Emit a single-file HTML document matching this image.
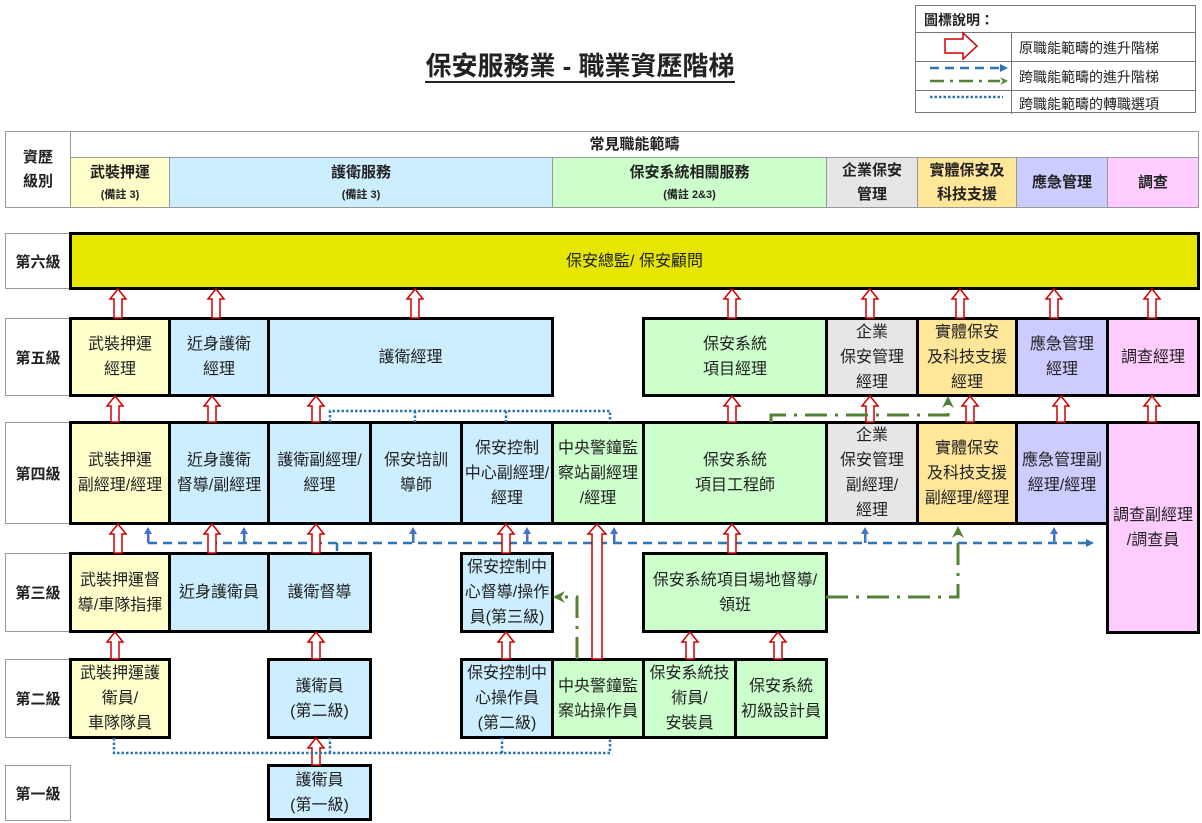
<!DOCTYPE html>
<html><head><meta charset="utf-8"><style>
body{margin:0;width:1202px;height:823px;background:#fff;position:relative;overflow:hidden;font-family:"Liberation Sans","Noto Sans CJK TC",sans-serif;color:#222}
.b{position:absolute;border:3px solid #000;box-sizing:border-box;display:flex;align-items:center;justify-content:center;text-align:center;font-size:16px;line-height:25px;white-space:nowrap}
.h{position:absolute;border:1px solid #999;box-sizing:border-box;display:flex;align-items:center;justify-content:center;text-align:center;font-size:15px;line-height:24px;font-weight:bold;flex-direction:column}
.h small{font-size:11px;line-height:20px}
.l{position:absolute;border:1px solid #999;box-sizing:border-box;display:flex;align-items:center;justify-content:center;font-size:15px;font-weight:bold;background:#fff}
.Y{background:#ffffcc}.B{background:#cceeff}.G{background:#ccffcc}.R{background:#e6e6e6}.O{background:#ffe699}.P{background:#ccccff}.K{background:#ffccff}
svg{position:absolute;left:0;top:0}
</style></head><body>
<div style="position:absolute;left:330px;top:46px;width:500px;text-align:center;font-size:26px;font-weight:bold;"><span style="border-bottom:2px solid #222;">保安服務業 - 職業資歷階梯</span></div>

<!-- legend -->
<div style="position:absolute;left:915px;top:5px;width:281px;height:108px;border:1px solid #777;box-sizing:border-box;font-size:14px;">
<div style="position:absolute;left:8px;top:4px;font-weight:bold;">圖標說明：</div>
<div style="position:absolute;left:0;top:26px;width:100%;border-top:1px solid #777"></div>
<div style="position:absolute;left:0;top:55px;width:100%;border-top:1px solid #777"></div>
<div style="position:absolute;left:0;top:84px;width:100%;border-top:1px solid #777"></div>
<div style="position:absolute;left:95px;top:26px;height:82px;border-left:1px solid #777"></div>
<div style="position:absolute;left:103px;top:32px;">原職能範疇的進升階梯</div>
<div style="position:absolute;left:103px;top:61px;">跨職能範疇的進升階梯</div>
<div style="position:absolute;left:103px;top:88px;">跨職能範疇的轉職選項</div>
</div>

<!-- header -->
<div class="h" style="left:5px;top:131px;width:66px;height:77px;">資歷<br>級別</div>
<div class="h" style="left:70px;top:131px;width:1129px;height:27px;">常見職能範疇</div>
<div class="h Y" style="left:70px;top:157px;width:100px;height:51px;">武裝押運<small>(備註 3)</small></div>
<div class="h B" style="left:169px;top:157px;width:384px;height:51px;">護衛服務<small>(備註 3)</small></div>
<div class="h G" style="left:552px;top:157px;width:275px;height:51px;">保安系統相關服務<small>(備註 2&amp;3)</small></div>
<div class="h R" style="left:826px;top:157px;width:92px;height:51px;">企業保安<br>管理</div>
<div class="h O" style="left:917px;top:157px;width:100px;height:51px;">實體保安及<br>科技支援</div>
<div class="h P" style="left:1016px;top:157px;width:92px;height:51px;">應急管理</div>
<div class="h K" style="left:1107px;top:157px;width:92px;height:51px;">調查</div>

<!-- level labels -->
<div class="l" style="left:5px;top:233px;width:66px;height:56px;">第六級</div>
<div class="l" style="left:5px;top:318px;width:66px;height:78px;">第五級</div>
<div class="l" style="left:5px;top:422px;width:66px;height:102px;">第四級</div>
<div class="l" style="left:5px;top:553px;width:66px;height:79px;">第三級</div>
<div class="l" style="left:5px;top:659px;width:66px;height:79px;">第二級</div>
<div class="l" style="left:5px;top:765px;width:66px;height:56px;">第一級</div>

<!-- level 6 -->
<div class="b" style="left:69px;top:232px;width:1131px;height:58px;background:#e6e600;">保安總監/ 保安顧問</div>
<!-- level 5 -->
<div class="b Y" style="left:69px;top:317px;width:102px;height:80px;">武裝押運<br>經理</div>
<div class="b B" style="left:168px;top:317px;width:102px;height:80px;">近身護衛<br>經理</div>
<div class="b B" style="left:267px;top:317px;width:287px;height:80px;">護衛經理</div>
<div class="b G" style="left:642px;top:317px;width:186px;height:80px;">保安系統<br>項目經理</div>
<div class="b R" style="left:825px;top:317px;width:94px;height:80px;">企業<br>保安管理<br>經理</div>
<div class="b O" style="left:916px;top:317px;width:102px;height:80px;">實體保安<br>及科技支援<br>經理</div>
<div class="b P" style="left:1015px;top:317px;width:94px;height:80px;">應急管理<br>經理</div>
<div class="b K" style="left:1106px;top:317px;width:94px;height:80px;">調查經理</div>
<!-- level 4 -->
<div class="b Y" style="left:69px;top:421px;width:102px;height:104px;">武裝押運<br>副經理/經理</div>
<div class="b B" style="left:168px;top:421px;width:102px;height:104px;">近身護衛<br>督導/副經理</div>
<div class="b B" style="left:267px;top:421px;width:105px;height:104px;">護衛副經理/<br>經理</div>
<div class="b B" style="left:369px;top:421px;width:94px;height:104px;">保安培訓<br>導師</div>
<div class="b B" style="left:460px;top:421px;width:94px;height:104px;">保安控制<br>中心副經理/<br>經理</div>
<div class="b G" style="left:551px;top:421px;width:94px;height:104px;">中央警鐘監<br>察站副經理<br>/經理</div>
<div class="b G" style="left:642px;top:421px;width:186px;height:104px;">保安系統<br>項目工程師</div>
<div class="b R" style="left:825px;top:421px;width:94px;height:104px;">企業<br>保安管理<br>副經理/<br>經理</div>
<div class="b O" style="left:916px;top:421px;width:102px;height:104px;">實體保安<br>及科技支援<br>副經理/經理</div>
<div class="b P" style="left:1015px;top:421px;width:94px;height:104px;">應急管理副<br>經理/經理</div>
<div class="b K" style="left:1106px;top:421px;width:94px;height:213px;">調查副經理<br>/調查員</div>
<!-- level 3 -->
<div class="b Y" style="left:69px;top:552px;width:102px;height:81px;">武裝押運督<br>導/車隊指揮</div>
<div class="b B" style="left:168px;top:552px;width:102px;height:81px;">近身護衛員</div>
<div class="b B" style="left:267px;top:552px;width:105px;height:81px;">護衛督導</div>
<div class="b B" style="left:460px;top:552px;width:94px;height:81px;">保安控制中<br>心督導/操作<br>員(第三級)</div>
<div class="b G" style="left:642px;top:552px;width:186px;height:81px;">保安系統項目場地督導/<br>領班</div>
<!-- level 2 -->
<div class="b Y" style="left:69px;top:658px;width:102px;height:81px;">武裝押運護<br>衛員/<br>車隊隊員</div>
<div class="b B" style="left:267px;top:658px;width:105px;height:81px;">護衛員<br>(第二級)</div>
<div class="b B" style="left:460px;top:658px;width:94px;height:81px;">保安控制中<br>心操作員<br>(第二級)</div>
<div class="b G" style="left:551px;top:658px;width:94px;height:81px;">中央警鐘監<br>案站操作員</div>
<div class="b G" style="left:642px;top:658px;width:95px;height:81px;">保安系統技<br>術員/<br>安裝員</div>
<div class="b G" style="left:734px;top:658px;width:94px;height:81px;">保安系統<br>初級設計員</div>
<!-- level 1 -->
<div class="b B" style="left:267px;top:764px;width:105px;height:57px;">護衛員<br>(第一級)</div>

<svg width="1202" height="823">
<defs>
<marker id="bm" markerWidth="8" markerHeight="8" refX="6" refY="4" orient="auto" markerUnits="userSpaceOnUse"><path d="M0,0L8,4L0,8z" fill="#2e75b6"/></marker>
<marker id="gm" markerWidth="12" markerHeight="12" refX="10" refY="6" orient="auto" markerUnits="userSpaceOnUse"><path d="M0,0L12,6L0,12L4,6z" fill="#548235"/></marker>
</defs>
<g fill="#fff" stroke="#d00000" stroke-width="1.5">
<path d="M114,318V299H110L118,289L126,299H122V318Z"/>
<path d="M212,318V299H208L216,289L224,299H220V318Z"/>
<path d="M411,318V299H407L415,289L423,299H419V318Z"/>
<path d="M728,318V299H724L732,289L740,299H736V318Z"/>
<path d="M866,318V299H862L870,289L878,299H874V318Z"/>
<path d="M956,318V299H952L960,289L968,299H964V318Z"/>
<path d="M1050,318V299H1046L1054,289L1062,299H1058V318Z"/>
<path d="M1148,318V299H1144L1152,289L1160,299H1156V318Z"/>
<path d="M111,422V406H107L115,396L123,406H119V422Z"/>
<path d="M208,422V406H204L212,396L220,406H216V422Z"/>
<path d="M312,422V406H308L316,396L324,406H320V422Z"/>
<path d="M728,422V406H724L732,396L740,406H736V422Z"/>
<path d="M866,422V406H862L870,396L878,406H874V422Z"/>
<path d="M966,422V406H962L970,396L978,406H974V422Z"/>
<path d="M1057,422V406H1053L1061,396L1069,406H1065V422Z"/>
<path d="M1148,422V406H1144L1152,396L1160,406H1156V422Z"/>
</g>
<g stroke="#2e75b6" stroke-width="2.5" fill="none" stroke-dasharray="9,6">
<path d="M148,543H1092" marker-end="url(#bm)"/>
<path d="M337,543V551" stroke-dasharray="none"/>
</g>
<g fill="#4472c4">
<path d="M144,534L148,527L152,534z"/><rect x="147" y="533" width="2.5" height="10"/>
<path d="M240,534L244,527L248,534z"/><rect x="243" y="533" width="2.5" height="10"/>
<path d="M409,534L413,527L417,534z"/><rect x="412" y="533" width="2.5" height="10"/>
<path d="M523,534L527,527L531,534z"/><rect x="526" y="533" width="2.5" height="10"/>
<path d="M610,534L614,527L618,534z"/><rect x="613" y="533" width="2.5" height="10"/>
<path d="M861,534L865,527L869,534z"/><rect x="864" y="533" width="2.5" height="10"/>
<path d="M1050,534L1054,527L1058,534z"/><rect x="1053" y="533" width="2.5" height="10"/>
</g>
<g fill="#fff" stroke="#d00000" stroke-width="1.5">
<path d="M114,553V534H110L118,524L126,534H122V553Z"/>
<path d="M208,553V534H204L212,524L220,534H216V553Z"/>
<path d="M312,553V534H308L316,524L324,534H320V553Z"/>
<path d="M502,553V534H498L506,524L514,534H510V553Z"/>
<path d="M728,553V534H724L732,524L740,534H736V553Z"/>
<path d="M592,659V534H588L597,524L606,534H602V659Z"/>
<path d="M111,659V642H107L115,632L123,642H119V659Z"/>
<path d="M312,659V642H308L316,632L324,642H320V659Z"/>
<path d="M502,659V642H498L506,632L514,642H510V659Z"/>
<path d="M686,659V642H682L690,632L698,642H694V659Z"/>
<path d="M774,659V642H770L778,632L786,642H782V659Z"/>
<path d="M312,765V748H308L316,738L324,748H320V765Z"/>
</g>
<g stroke="#548235" stroke-width="3" fill="none" stroke-dasharray="22,8,3,8">
<path d="M826,597H958V528" marker-end="url(#gm)"/>
<path d="M771,422V415H948V398" marker-end="url(#gm)"/>
<path d="M577,659V597H555" marker-end="url(#gm)"/>
</g>
<g stroke="#2e75b6" stroke-width="2.5" fill="none" stroke-dasharray="2.5,2">
<path d="M330,422V411H610V422M415,411V422M506,411V422"/>
<path d="M114,738V753H610V738M330,753V738M502,753V738"/>
</g>
<path d="M945,53V39H963V33L977,46L963,59V53Z" fill="#fff" stroke="#d00000" stroke-width="1.5"/>
<path d="M930,68H1000" stroke="#2e75b6" stroke-width="2.5" stroke-dasharray="9,6"/>
<path d="M1000,64L1008,68L1000,72z" fill="#2e75b6"/>
<path d="M930,81H1000" stroke="#548235" stroke-width="2.5" stroke-dasharray="14,6,3,6"/>
<path d="M1000,77L1008,81L1000,85L1003,81z" fill="#548235"/>
<path d="M930,97H1003" stroke="#2e75b6" stroke-width="2.5" stroke-dasharray="2.5,2"/>
</svg>
</body></html>
